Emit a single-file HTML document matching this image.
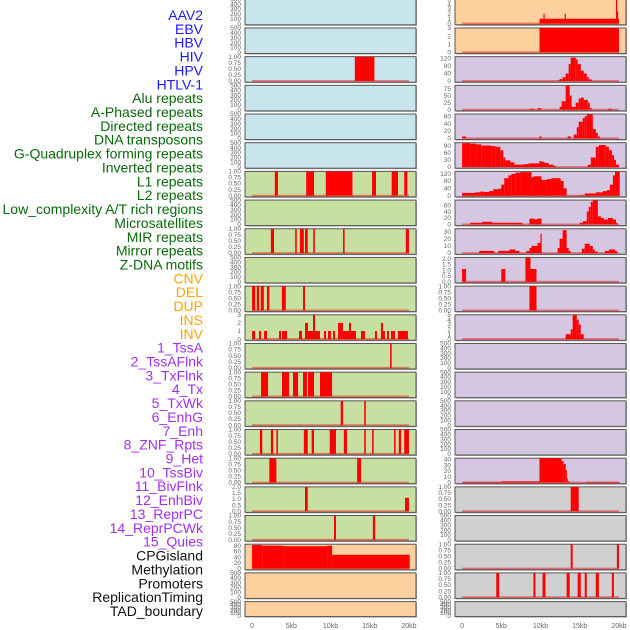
<!DOCTYPE html>
<html><head><meta charset="utf-8"><style>
html,body{margin:0;padding:0;background:#fff;width:630px;height:630px;overflow:hidden}
svg{display:block;font-family:"Liberation Sans",sans-serif}
</style></head><body>
<svg id="chart" width="630" height="630" viewBox="0 0 630 630"></svg>
<script>
const trackLabels = ["AAV2","EBV","HBV","HIV","HPV","HTLV-1","Alu repeats","A-Phased repeats","Directed repeats","DNA transposons","G-Quadruplex forming repeats","Inverted repeats","L1 repeats","L2 repeats","Low_complexity A/T rich regions","Microsatellites","MIR repeats","Mirror repeats","Z-DNA motifs","CNV","DEL","DUP","INS","INV","1_TssA","2_TssAFlnk","3_TxFlnk","4_Tx","5_TxWk","6_EnhG","7_Enh","8_ZNF_Rpts","9_Het","10_TssBiv","11_BivFlnk","12_EnhBiv","13_ReprPC","14_ReprPCWk","15_Quies","CPGisland","Methylation","Promoters","ReplicationTiming","TAD_boundary"];
const labelGroups = ["v","v","v","v","v","v","r","r","r","r","r","r","r","r","r","r","r","r","r","s","s","s","s","s","c","c","c","c","c","c","c","c","c","c","c","c","c","c","c","o","o","o","o","o"];
const xTickValues = [0,5,10,15,20];
const xTickLabels = ["0","5kb","10kb","15kb","20kb"];

// left column panels (segments: [startKb, endKb, value])
const L0 = [], L1 = [];
const L2 = [[13.1,15.6,1]];
const L3 = [], L4 = [], L5 = [];
const L6 = [[2.9,3.3,1],[6.9,7.9,1],[9.4,12.8,1],[15.3,15.8,1],[17.8,18.6,1],[19.4,19.8,1]];
const L7 = [];
const L8 = [[2.4,2.8,1],[5.5,5.7,1],[6.1,6.6,1],[6.75,7.1,1],[7.8,8.0,1],[11.6,11.8,1],[19.6,20.0,1]];
const L9 = [];
const L10 = [[0,0.4,1],[0.6,0.9,1],[1.1,1.5,1],[1.9,2.2,1],[3.8,4.3,1],[6.5,6.75,1]];
const L11 = [[0,0.38,1],[0.89,1.15,1],[1.53,1.91,1],[3.44,3.69,1],[3.82,4.46,1],[5.99,6.37,1],[6.75,7.13,2],[7.13,7.77,1],[7.77,8.03,3],[8.03,8.66,1],[9.17,9.43,1],[9.68,10.06,1],[10.32,10.57,1],[10.96,11.21,2],[11.21,11.59,2],[11.59,12.36,1],[12.36,12.61,2],[12.61,13.25,1],[13.89,14.39,1],[15.67,15.92,1],[16.43,16.69,2],[16.69,16.94,1],[17.2,17.45,1],[17.71,18.22,1],[18.6,19.87,1]];
const L12 = [[17.6,17.8,1]];
const L13 = [[1.15,2.04,1],[3.82,4.71,1],[5.22,5.86,1],[6.5,7.0,1],[7.13,7.9,1],[8.66,10.2,1]];
const L14 = [[11.3,11.6,1],[14.3,14.5,1]];
const L15 = [[1.0,1.3,1],[2.4,2.7,1],[3.1,3.3,1],[6.6,7.1,1],[7.6,7.9,1],[9.9,10.7,1],[11.7,12.1,1],[14.3,14.5,1],[15.3,15.5,1],[18.1,18.3,1],[18.7,19.0,1],[19.4,20.0,1]];
const L16 = [[2.2,3.1,1],[13.4,13.9,1]];
const L17 = [[6.75,7.1,2],[19.5,20.0,1.1]];
const L18 = [[10.45,10.7,1],[15.4,15.7,1]];
const L19 = [[0,1.3,82],[1.3,4,80],[4,9.6,78],[9.6,10.2,80],[10.2,20.1,48]];
const L20 = [], L21 = [];

// right column panels
const R0 = [[9.87,20.0,1],[10.38,10.51,2],[13.08,13.21,2],[19.62,19.74,5],[19.74,19.87,2.5]];
const R1 = [[9.87,20,3]];
const R2 = [[12.18,12.44,3],[12.44,12.82,10],[12.82,13.21,20],[13.21,13.59,40],[13.59,13.85,90],[13.85,14.49,125],[14.49,14.74,115],[14.74,15.13,90],[15.13,15.51,55],[15.51,15.9,40],[15.9,16.15,20],[16.15,16.54,8]];
const R3 = [[8.59,9.23,3],[9.62,10.13,5],[12.44,12.69,10],[12.69,13.21,30],[13.21,13.72,85],[13.72,13.97,50],[13.97,14.49,10],[14.49,14.87,25],[14.87,15.13,40],[15.13,15.51,43],[15.51,16.03,35],[16.03,16.28,25],[16.28,16.54,5],[18.59,19.1,3]];
const R4 = [[0,0.51,5],[9.87,10.13,5],[13.46,13.85,5],[14.23,14.62,10],[14.62,14.87,30],[14.87,15.38,45],[15.38,15.64,55],[15.64,15.9,60],[15.9,16.67,65],[16.67,17.05,25],[17.05,17.31,15],[17.31,17.56,5]];
const R5 = [[0,1.03,100],[1.03,1.79,98],[1.79,2.44,95],[2.44,3.72,90],[3.72,4.23,88],[4.23,4.87,85],[4.87,5.26,70],[5.26,5.51,40],[5.51,6.15,28],[6.15,6.67,20],[6.67,7.95,10],[7.95,8.46,12],[8.46,9.87,15],[9.87,10.13,25],[10.13,10.51,22],[10.51,11.03,17],[11.03,11.67,10],[11.67,11.92,5],[16.03,16.41,10],[16.41,17.05,40],[17.05,17.44,85],[17.44,18.33,92],[18.33,18.72,85],[18.72,19.1,70],[19.1,19.36,50],[19.36,19.62,30],[19.62,20,10]];
const R6 = [[0,1.67,15],[1.67,2.31,18],[2.31,2.82,22],[2.82,3.46,20],[3.46,3.97,25],[3.97,4.62,35],[4.62,5.0,38],[5.0,5.38,60],[5.38,5.9,95],[5.9,6.28,110],[6.28,6.79,118],[6.79,7.44,125],[7.44,8.85,128],[8.85,9.1,100],[9.1,10.13,105],[10.13,10.77,85],[10.77,11.41,90],[11.41,12.56,95],[12.56,12.95,80],[12.95,13.33,40],[15.0,15.51,3],[15.64,17.05,12],[17.05,17.95,18],[17.95,18.46,25],[18.46,18.85,30],[18.85,19.23,60],[19.23,19.49,110],[19.49,20.1,130]];
const R7 = [[1.03,2.56,5],[2.56,3.85,8],[3.85,7.69,5],[8.59,9.23,18],[9.23,9.62,15],[9.62,10.13,18],[15.0,15.38,5],[15.38,15.9,10],[15.9,16.15,40],[16.15,16.41,55],[16.41,16.67,70],[16.67,17.31,75],[17.31,17.69,25],[17.69,18.08,20],[18.08,18.59,15],[18.59,19.23,20],[19.23,19.62,15],[19.62,19.74,5]];
const R8 = [[2.18,4.1,3],[4.62,6.03,3],[6.03,6.79,5],[6.79,7.31,3],[8.21,8.59,3],[8.59,8.85,7],[8.85,9.62,10],[9.62,10.0,14],[10.0,10.13,27],[12.18,12.44,7],[12.44,12.82,20],[12.82,13.33,32],[13.33,13.59,7],[13.59,13.85,3],[15.26,15.64,6],[15.64,16.28,13],[16.28,16.67,10],[16.67,16.92,5],[16.92,17.31,2],[18.21,18.72,3],[18.72,19.49,5],[19.49,19.74,3]];
const R9 = [[0,0.51,1.1],[5.0,5.51,1.1],[8.08,8.72,2.1],[8.72,9.49,1.1]];
const R10 = [[8.59,9.49,1]];
const R11 = [[13.21,13.85,1],[13.85,14.1,2],[14.1,14.62,5],[14.62,14.87,4],[14.87,15.13,3],[15.13,15.51,1]];
const R12 = [], R13 = [], R14 = [], R15 = [];
const R16 = [[0,5.0,1],[5.0,9.87,2],[9.87,12.69,42],[12.69,12.95,37],[12.95,13.21,32],[13.21,13.33,22],[13.33,13.46,7],[13.46,13.72,2],[15.77,20.13,1]];
const R17 = [[13.85,14.87,1]];
const R18 = [];
const R19 = [[13.85,14.1,1],[19.74,20.0,1]];
const R20 = [[4.36,4.74,1],[9.1,9.36,1],[10.26,10.64,1],[13.33,13.72,1],[14.74,15.13,1],[15.64,15.9,1],[17.05,17.44,1],[19.1,19.36,1]];
const R21 = [];

// y tick sets
const ticksEmpty = [0,100,200,300,400,500];
const ticksFrac = [0,0.25,0.5,0.75,1];
const ticksHalf = [0,0.5,1,1.5,2];
const leftTicks = [ticksEmpty,ticksEmpty,ticksFrac,ticksEmpty,ticksEmpty,ticksEmpty,ticksFrac,ticksEmpty,ticksFrac,ticksEmpty,ticksFrac,[0,1,2,3],ticksFrac,ticksFrac,ticksFrac,ticksFrac,ticksFrac,ticksHalf,ticksFrac,[0,20,40,60,80],ticksEmpty,ticksEmpty];
const rightTicks = [[0,1,2,3,4,5],[0,1,2,3],[0,40,80,120],[0,25,50,75],[0,20,40,60],[0,30,60,90],[0,40,80,120],[0,20,40,60],[0,10,20,30],ticksHalf,ticksFrac,[0,1,2,3,4,5],ticksEmpty,ticksEmpty,ticksEmpty,ticksEmpty,[0,10,20,30,40],ticksFrac,ticksEmpty,ticksFrac,ticksFrac,ticksEmpty];
const leftMax = [500,500,1,500,500,500,1,500,1,500,1,3,1,1,1,1,1,2,1,85,500,500];
const rightMax = [5,3,130,87,66,102,132,76,34,2.1,1,5,500,500,500,500,42,1,500,1,1,500];
const leftData = [L0,L1,L2,L3,L4,L5,L6,L7,L8,L9,L10,L11,L12,L13,L14,L15,L16,L17,L18,L19,L20,L21];
const rightData = [R0,R1,R2,R3,R4,R5,R6,R7,R8,R9,R10,R11,R12,R13,R14,R15,R16,R17,R18,R19,R20,R21];

const NS = "http://www.w3.org/2000/svg";
const svg = document.getElementById("chart");
const groupColor = {v:"#1a1aff", r:"#0a6a0a", s:"#ffa500", c:"#a030f0", o:"#111"};
const bgL = i => i < 6 ? "#c8e4ec" : (i < 19 ? "#c7e0a2" : "#fdd09e");
const bgR = i => i < 2 ? "#fdd09e" : (i < 17 ? "#d5c6e2" : "#d0d0d0");
function mk(tag, attrs, parent) {
  const e = document.createElementNS(NS, tag);
  for (const k in attrs) e.setAttribute(k, attrs[k]);
  (parent || svg).appendChild(e);
  return e;
}
function fmt(t, ticks) {
  if (ticks === ticksFrac) return t.toFixed(2);
  if (ticks === ticksHalf) return t.toFixed(1);
  return String(t);
}
// labels
trackLabels.forEach((lab, i) => {
  const t = mk("text", {x:203, y:20 + 13.86 * i, "text-anchor":"end", "font-size":"14", fill:groupColor[labelGroups[i]]});
  
  
  t.textContent = lab;
});
const X0 = -0.9, X1 = 20.9, PW = 171;
function rowTop(i) { return -0.7 + 28.68 * i; }
function rowH(i) { return i === 21 ? 15 : 25.5; }
function drawPanel(px, i, data, ticks, ymax, bg, side) {
  const top = rowTop(i), h = rowH(i);
  const g = mk("g", {});
  
  
  const xs = kb => px + (kb - X0) / (X1 - X0) * PW;
  const ymin = -0.05 * ymax;
  const ys = v => top + h - (v - ymin) / (ymax - ymin) * h;
  mk("rect", {x:px + 1, y:top + 1, width:PW, height:h, fill:"#aaa"}, g);
  mk("rect", {x:px, y:top, width:PW, height:h, fill:bg, stroke:"#555", "stroke-width":"1"}, g);
  const cid = "c" + side + i;
  const cp = mk("clipPath", {id:cid}, g);
  mk("rect", {x:px, y:top, width:PW, height:h}, cp);
  const dg = mk("g", {"clip-path":"url(#" + cid + ")"}, g);
  if (data.length) {
    const bl = mk("line", {x1:xs(0), x2:xs(20), y1:ys(0), y2:ys(0), stroke:"rgba(230,0,0,0.45)", "stroke-width":"1.8"}, dg);
    
    
  }
  data.forEach(d => {
    const x0 = xs(d[0]), x1 = xs(d[1]);
    const r = mk("rect", {x:x0, y:ys(d[2]), width:Math.max(1.2, x1 - x0), height:ys(0) - ys(d[2]), fill:"#ff0000"}, dg);
    
    
  });
  ticks.forEach(t => {
    const y = ys(t);
    if (y < -2) return;
    const tx = mk("text", {x:px - 4, y:y + 2.2, "text-anchor":"end", "font-size":"6.5", fill:"#666"}, g);
    
    
    tx.textContent = fmt(t, ticks);
  });
  return xs;
}
let xsL, xsR;
for (let i = 0; i < 22; i++) {
  xsL = drawPanel(245, i, leftData[i], leftTicks[i], leftMax[i], bgL(i), "left");
  xsR = drawPanel(455, i, rightData[i], rightTicks[i], rightMax[i], bgR(i), "right");
}
[xsL, xsR].forEach(xs => {
  xTickValues.forEach((v, k) => {
    const t = mk("text", {x:xs(v), y:628, "text-anchor":"middle", "font-size":"7", fill:"#666"});
    
    
    t.textContent = xTickLabels[k];
  });
});
</script>
</body></html>
